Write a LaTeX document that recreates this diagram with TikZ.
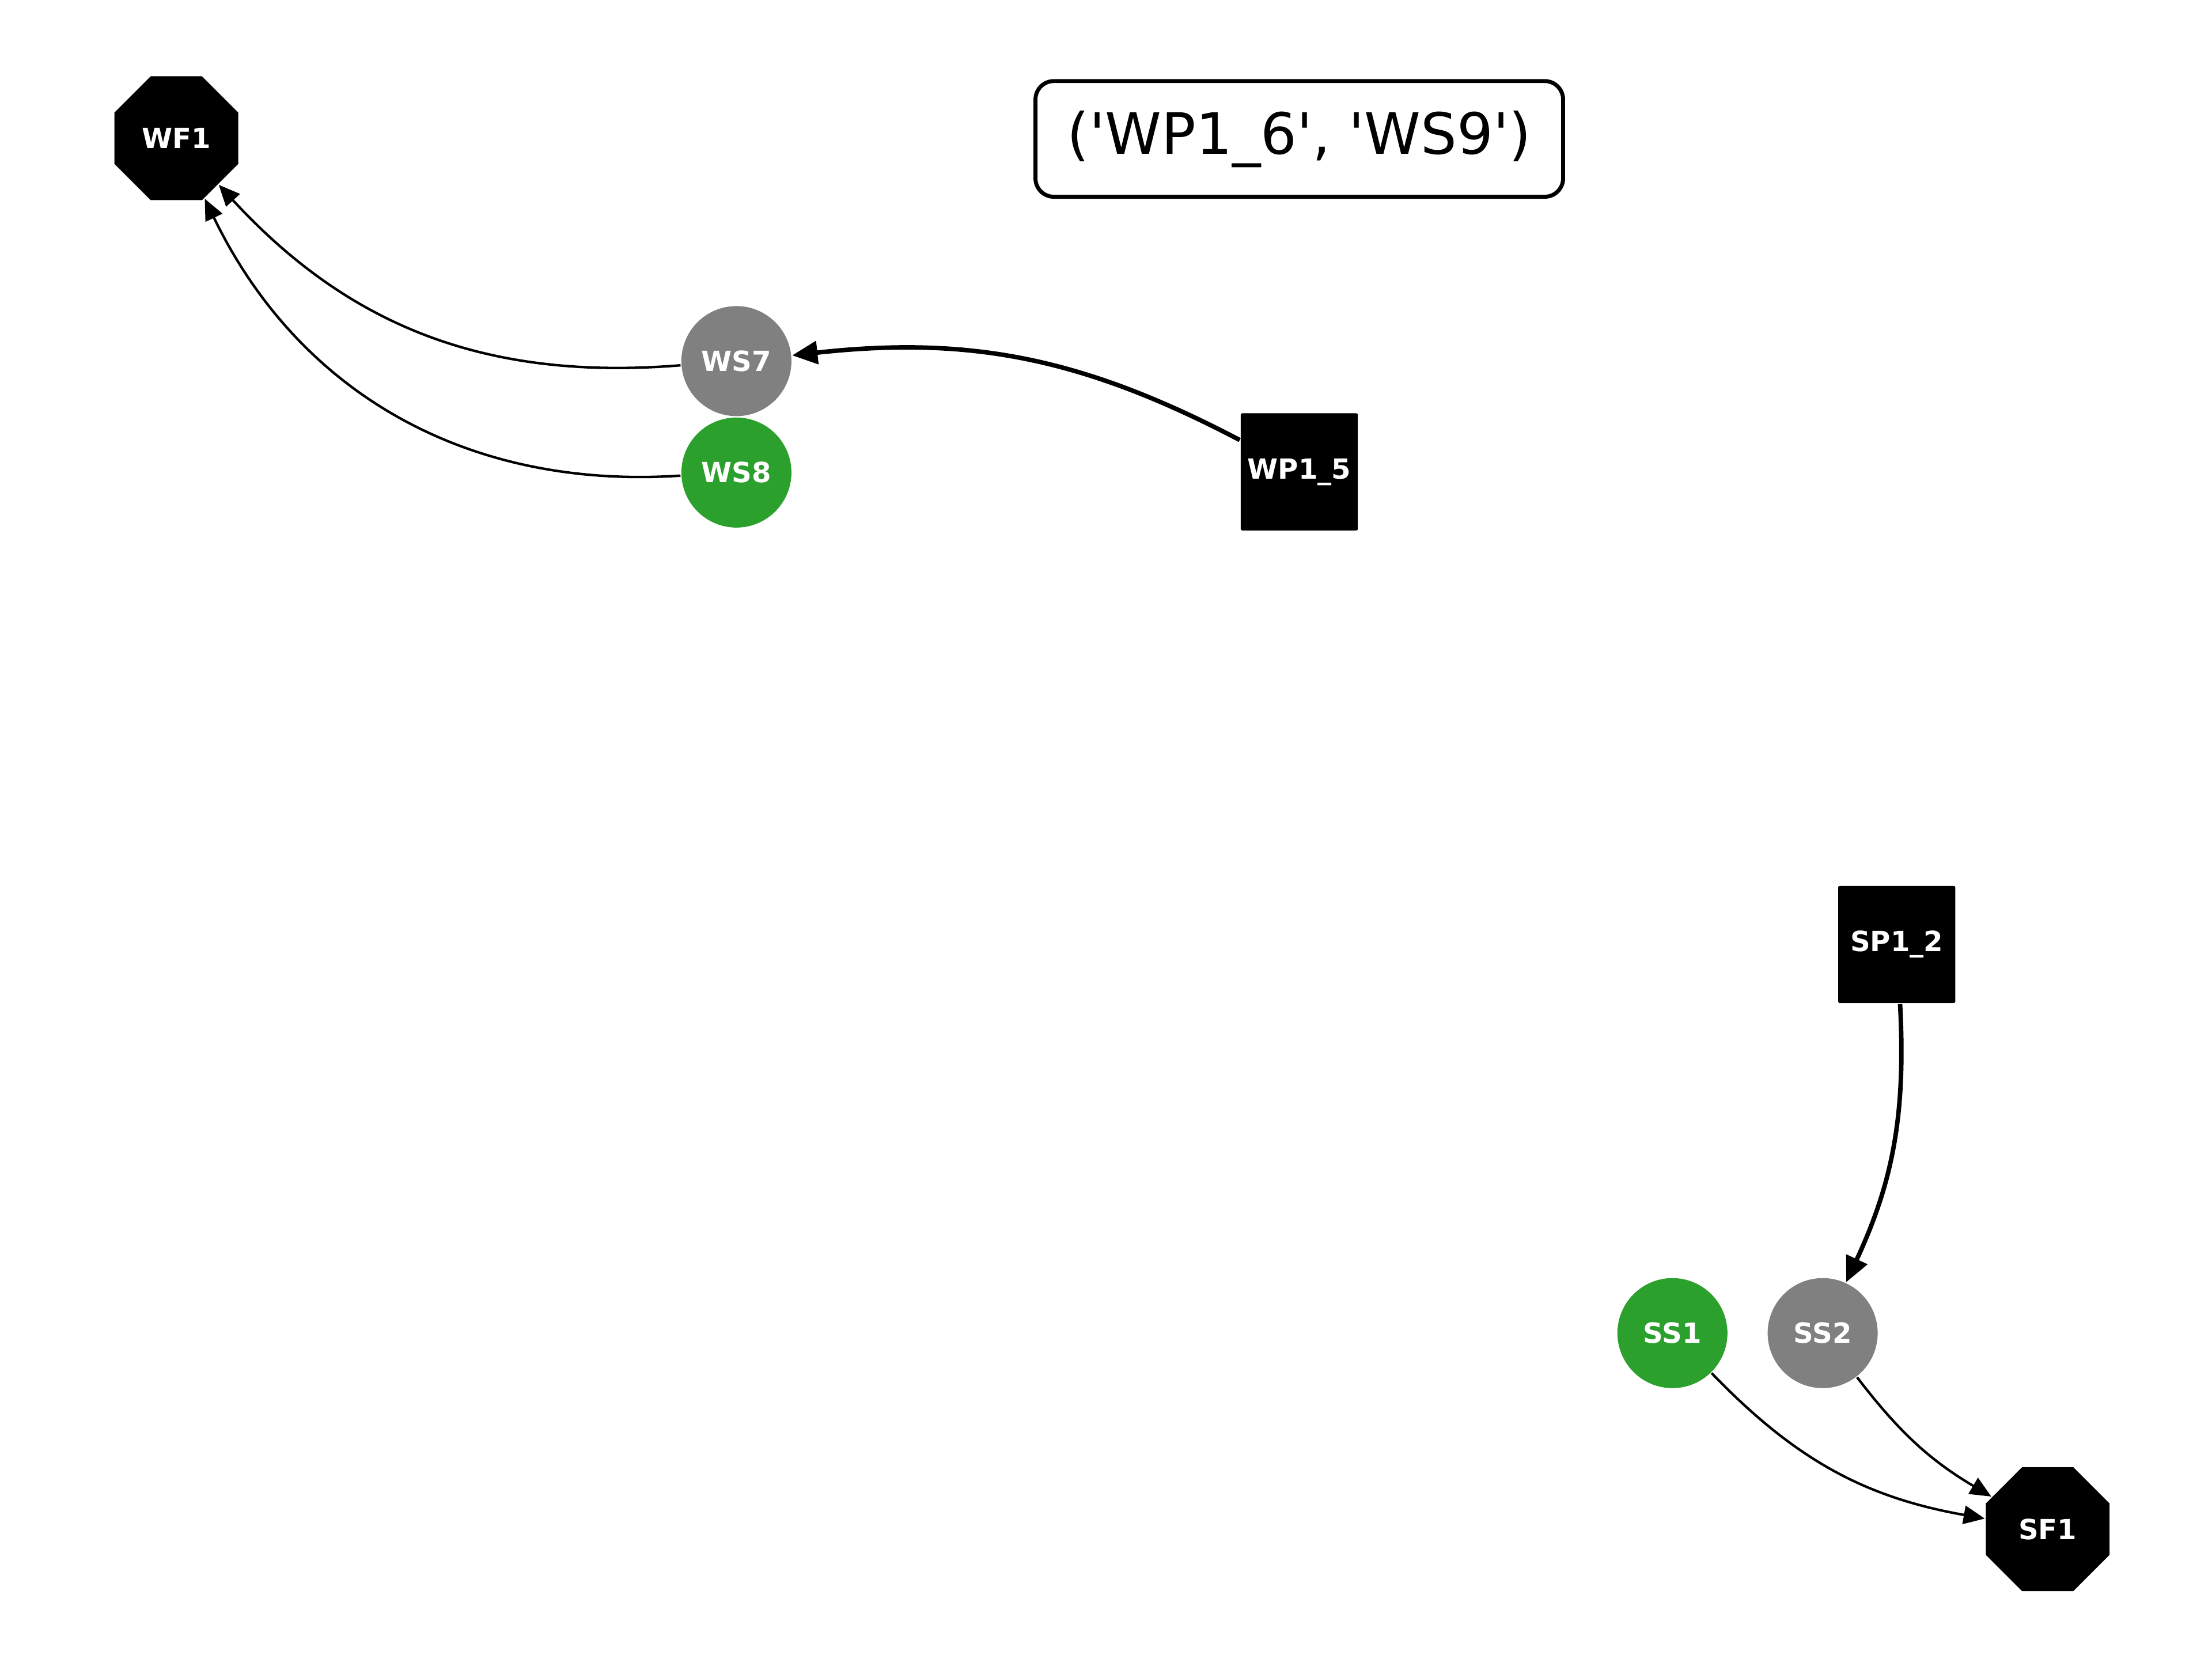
\documentclass[tikz,border=0pt]{standalone}
\usepackage{fontspec}
\setmainfont{DejaVu Sans}
\usetikzlibrary{shapes.geometric,arrows.meta}
\definecolor{nodegreen}{RGB}{44,160,44}
\definecolor{nodegrey}{RGB}{128,128,128}
\newcommand{\sq}{\textquotesingle}
\begin{document}
\begin{tikzpicture}[
  lbl/.style={text=white,font=\fontsize{5.6}{6.5}\selectfont\bfseries,inner sep=0pt},
  station/.style={lbl,circle,minimum size=0.78cm},
  greenst/.style={station,fill=nodegreen},
  greyst/.style={station,fill=nodegrey},
  plant/.style={lbl,rectangle,rounded corners=0.3pt,fill=black,minimum size=0.83cm},
  final/.style={lbl,regular polygon,regular polygon sides=8,fill=black,minimum size=0.95cm},
  thinedge/.style={line width=0.5pt,-{Triangle[length=0.15cm,width=0.13cm]}},
  thickedge/.style={line width=0.9pt,-{Triangle[length=0.18cm,width=0.16cm]}},
]
\useasboundingbox (0,0) rectangle (15.68,11.76);

% title box
\node[draw,line width=0.8pt,rounded corners=0.13cm,minimum width=3.74cm,minimum height=0.82cm,
      inner sep=0pt,font=\fontsize{11.5}{13}\selectfont] (title) at (9.21,10.775)
      {(\sq WP1\_6\sq, \sq WS9\sq)};

% W group
\node[final]  (wf1)  at (1.25,10.78) {WF1};
\node[greyst] (ws7)  at (5.22,9.20) {WS7};
\node[greenst](ws8)  at (5.22,8.41) {WS8};
\node[plant]  (wp15) at (9.21,8.415) {WP1\_5};

% S group
\node[plant]  (sp12) at (13.445,5.065) {SP1\_2};
\node[greenst](ss1)  at (11.855,2.31) {SS1};
\node[greyst] (ss2)  at (12.92,2.31) {SS2};
\node[final]  (sf1)  at (14.515,0.92) {SF1};

% connectors
\draw[thinedge]  (ws7)  to[bend left=26]  (wf1);
\draw[thinedge]  (ws8)  to[bend left=34]  (wf1);
\draw[thickedge] (wp15) to[bend right=17] (ws7);
\draw[thickedge] (sp12) to[bend left=14]  (ss2);
\draw[thinedge]  (ss1)  to[bend right=18] (sf1);
\draw[thinedge]  (ss2)  to[bend right=11] (sf1);
\end{tikzpicture}
\end{document}
